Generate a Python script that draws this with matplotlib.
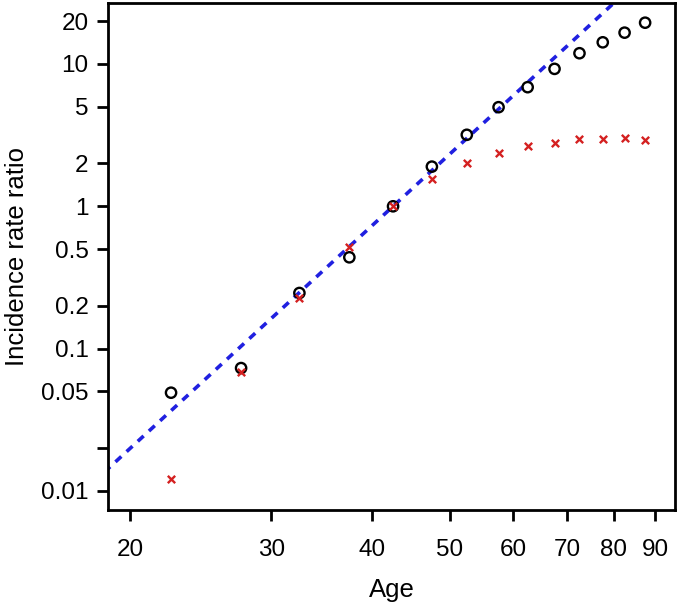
import numpy as np
import matplotlib
matplotlib.use("Agg")
import matplotlib.pyplot as plt
from matplotlib.ticker import FixedLocator, FixedFormatter, NullLocator

plt.rcParams['font.family'] = ['Liberation Sans', 'DejaVu Sans']

# age group midpoints
age = [22.5, 27.5, 32.5, 37.5, 42.5, 47.5, 52.5, 57.5, 62.5, 67.5, 72.5, 77.5, 82.5, 87.5]

# incidence rate ratios (open circles, black)
irr_circle = [0.049, 0.073, 0.246, 0.438, 1.0, 1.90, 3.18, 4.97, 6.87, 9.24, 11.9, 14.2, 16.6, 19.5]

# incidence rate ratios (crosses, red)
irr_cross = [0.0121, 0.069, 0.228, 0.516, 1.0, 1.56, 2.03, 2.38, 2.66, 2.77, 2.96, 2.96, 3.04, 2.93]

# fitted power law line: irr = (age / ref_age) ** slope
line_slope = 5.2
line_ref_age = 42.5
line_age = [18.0, 100.0]

yticks = [0.01, 0.02, 0.05, 0.1, 0.2, 0.5, 1, 2, 5, 10, 20]
ytick_labels = ['0.01', '', '0.05', '0.1', '0.2', '0.5', '1', '2', '5', '10', '20']
xticks = [20, 30, 40, 50, 60, 70, 80, 90]

fig = plt.figure(figsize=(6.79, 6.10), dpi=100)
ax = fig.add_axes([0.159, 0.164, 0.835, 0.831])

la = np.array(line_age)
ax.plot(la, (la / line_ref_age) ** line_slope, color='#2020e0', lw=2.6,
        dashes=(2.2, 2.0), zorder=1)

ax.scatter(age, irr_circle, s=55, facecolors='none', edgecolors='black',
           linewidths=1.7, zorder=2)
ax.scatter(age, irr_cross, s=28, marker='x', color='#d42020',
           linewidths=1.7, zorder=3)

ax.set_xscale('log')
ax.set_yscale('log')
ax.set_xlim(18.78, 95.3)
ax.set_ylim(0.00735, 26.8)

ax.xaxis.set_major_locator(FixedLocator(xticks))
ax.xaxis.set_major_formatter(FixedFormatter([str(v) for v in xticks]))
ax.xaxis.set_minor_locator(NullLocator())
ax.yaxis.set_major_locator(FixedLocator(yticks))
ax.yaxis.set_major_formatter(FixedFormatter(ytick_labels))
ax.yaxis.set_minor_locator(NullLocator())

ax.tick_params(axis='both', direction='out', length=8, width=2, labelsize=17.5)
ax.tick_params(axis='x', pad=13)
ax.tick_params(axis='y', pad=6)
for s in ax.spines.values():
    s.set_linewidth(2)

ax.set_xlabel('Age', fontsize=18.5, labelpad=12)
ax.set_ylabel('Incidence rate ratio', fontsize=18.5, labelpad=9)

fig.savefig('out.png', dpi=100)
